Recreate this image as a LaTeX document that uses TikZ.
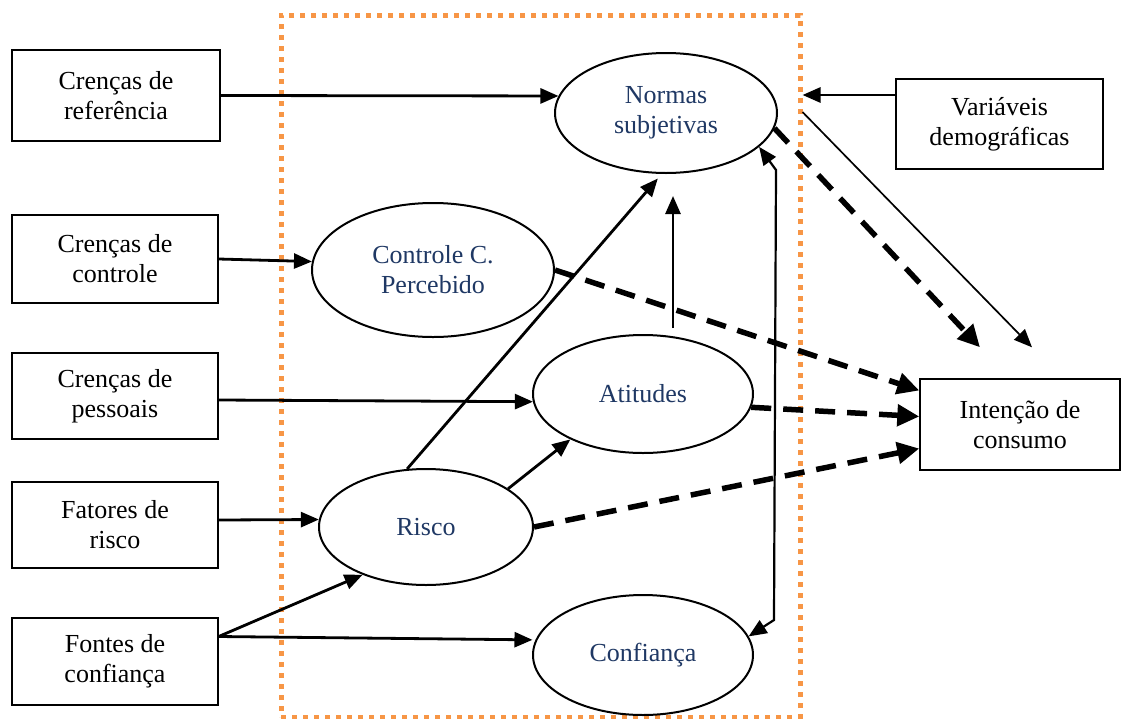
\documentclass[tikz,border=0pt]{standalone}
\usepackage{fontspec}
\setmainfont{Liberation Serif}
\usetikzlibrary{arrows.meta,shapes.geometric}
\definecolor{navy}{HTML}{1F3864}
\definecolor{frameorange}{HTML}{F79646}
\newcommand\diagfont{\fontsize{26}{30}\selectfont}
\begin{document}
\begin{tikzpicture}[x=1pt,y=-1pt,
  box/.style={draw,line width=1.4pt,inner sep=0pt,align=center,font=\diagfont},
  oval/.style={ellipse,draw,line width=2pt,inner sep=0pt,align=center,text=navy,font=\diagfont},
  arr/.style={line width=2.8pt,-{Triangle[length=18pt,width=15pt]}},
  thinarr/.style={line width=1.7pt,-{Triangle[length=18pt,width=15pt]}},
  biarr/.style={line width=2.2pt,{Triangle[length=18pt,width=15pt]}-{Triangle[length=18pt,width=15pt]}},
  darr/.style={line width=5.5pt,dash pattern=on 20pt off 12pt,-{Triangle[length=22pt,width=21pt]}},
  framebox/.style={draw=frameorange,line width=5pt,dash pattern=on 5pt off 6pt,inner sep=0pt}
]
\useasboundingbox (0,0) rectangle (1122,718);
\fill[white] (0,0) rectangle (1122,718);

% frame
\node[framebox,minimum width=519pt,minimum height=702pt] (frame) at (540.5,366) {};

% left boxes
\node[box,minimum width=208pt,minimum height=91pt] (b1) at (116,95.5) {Crenças de\\referência};
\node[box,minimum width=206pt,minimum height=88pt] (b2) at (115,259) {Crenças de\\controle};
\node[box,minimum width=206pt,minimum height=86pt] (b3) at (115,396) {Crenças de\\pessoais};
\node[box,minimum width=206pt,minimum height=86pt] (b4) at (115,525) {Fatores de\\risco};
\node[box,minimum width=206pt,minimum height=87pt] (b5) at (115,661.5) {Fontes de\\confiança};

% right boxes
\node[box,minimum width=207pt,minimum height=90pt] (var) at (999.5,124) {Variáveis\\demográficas};
\node[box,minimum width=200pt,minimum height=91pt] (int) at (1020,424.5) {Intenção de\\consumo};

% ellipses
\node[oval,minimum width=222pt,minimum height=120pt] (norm) at (666,113) {Normas\\subjetivas};
\node[oval,minimum width=242pt,minimum height=134pt] (ctrl) at (433,270) {Controle C.\\Percebido};
\node[oval,minimum width=220pt,minimum height=118pt] (att) at (643,394) {Atitudes};
\node[oval,minimum width=214pt,minimum height=116pt] (risco) at (426,527) {Risco};
\node[oval,minimum width=220pt,minimum height=120pt] (conf) at (643,655) {Confiança};

% coordinates
\coordinate (f0) at ([yshift=25pt]b5.east);
\coordinate (va) at ([yshift=29pt]var.west);
\coordinate (c1) at (776,170);
\coordinate (c2) at (774,620);
\coordinate (t0) at (800,112);
\coordinate (tEnd) at ([xshift=12pt,yshift=31pt]int.north);
\coordinate (dEnd) at ([xshift=-40pt,yshift=31pt]int.north);

% solid arrows
\draw[arr] (b1.east) -- (norm.171);
\draw[arr] (b2.east) -- (ctrl.176);
\draw[arr] ([yshift=-4pt]b3.east) -- (att.184);
\draw[arr] ([yshift=5pt]b4.east) -- (risco.176);
\draw[arr] (f0) -- (risco.217);
\draw[arr,shorten >=3pt] (f0) -- (conf.172);
\draw[arr] (risco.25) -- (att.212);
\draw[arr,shorten >=6pt] (risco.108) -- (norm.266);
\draw[arr] ([xshift=30pt,yshift=6pt]att.north) -- ([xshift=7pt,yshift=-22pt]norm.south);
\draw[biarr] (norm.-20) -- (c1) -- (c2) -- (conf.10);
\draw[arr] (va) -- (va -| frame.east);
\draw[thinarr] (t0 -| frame.east) -- (tEnd);

% dashed arrows
\draw[darr] (norm.-8) -- (dEnd);
\draw[darr] (ctrl.0) -- ([yshift=34pt]int.west);
\draw[darr] (att.-7) -- ([yshift=8pt]int.west);
\draw[darr] (risco.east) -- ([yshift=-24pt]int.west);
\end{tikzpicture}
\end{document}
